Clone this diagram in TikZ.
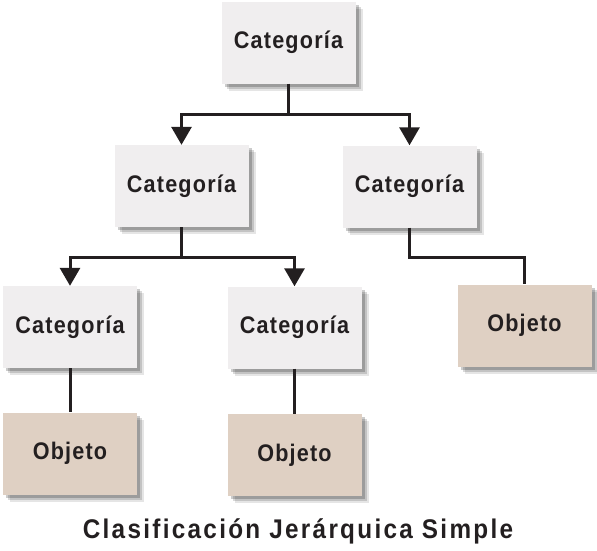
\documentclass[tikz,border=0pt]{standalone}
\usepackage{fontspec}
\setmainfont{Liberation Sans}
\newfontfamily\labelfont{Liberation Sans}[LetterSpace=5, FakeStretch=0.9]
\newfontfamily\titlefont{Liberation Sans}[LetterSpace=8.5, FakeStretch=0.9]
\usetikzlibrary{arrows.meta}
\definecolor{catfill}{HTML}{F0EEEF}
\definecolor{objfill}{HTML}{DFD0C3}
\definecolor{ink}{HTML}{231F20}
\tikzset{
  shd/.style={
    preaction={fill=black, opacity=0.10, transform canvas={xshift=7pt,yshift=-7pt}},
    preaction={fill=black, opacity=0.15, transform canvas={xshift=5pt,yshift=-5pt}},
    preaction={fill=black, opacity=0.20, transform canvas={xshift=3pt,yshift=-3pt}}},
  box/.style={shd, minimum width=134pt, minimum height=82pt, inner sep=0pt,
    text=ink, font=\labelfont\bfseries\fontsize{24}{26}\selectfont},
  cat/.style={box, fill=catfill},
  obj/.style={box, fill=objfill},
  conn/.style={draw=ink, line width=3pt},
  arr/.style={conn, -{Triangle[width=20pt,length=18pt]}},
}
\begin{document}
\begin{tikzpicture}[x=1pt,y=-1pt]
\useasboundingbox (0,0) rectangle (597,550);
\node[cat] (c1) at (288.5,42.5) {Categoría};
\node[cat] (cL) at (181.5,186) {Categoría};
\node[cat] (cR) at (409.5,186.5) {Categoría};
\node[cat] (cLL) at (70,327) {Categoría};
\node[cat] (cLM) at (294.5,327.5) {Categoría};
\node[obj] (oR) at (524.5,325.5) {Objeto};
\node[obj] (oLL) at (70,453.5) {Objeto};
\node[obj] (oLM) at (294.5,455) {Objeto};
\coordinate (j1) at (288.5,114);
\coordinate (j2) at (181.5,257);
\coordinate (j3) at (409.5,257);
\draw[conn] (c1.south) -- (j1);
\draw[arr] (j1) -| (cL.north);
\draw[arr] (j1) -| (cR.north);
\draw[conn] (cL.south) -- (j2);
\draw[arr] (j2) -| (cLL.north);
\draw[arr] (j2) -| (cLM.north);
\draw[conn] (cR.south) -- (j3) -| (oR.north);
\draw[conn] (cLL.south) -- (oLL.north);
\draw[conn] (cLM.south) -- (oLM.north);
\node[text=ink, font=\titlefont\bfseries\fontsize{27}{30}\selectfont] (title) at (298,531) {Clasificación Jerárquica Simple};
\end{tikzpicture}
\end{document}
